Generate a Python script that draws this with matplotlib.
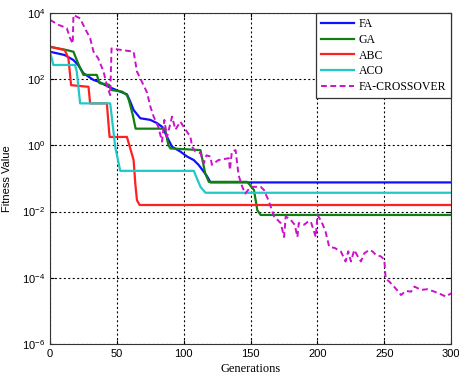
import matplotlib.pyplot as plt
from matplotlib.ticker import NullLocator, LogFormatterSciNotation

# Convergence curves of the five optimisers (best fitness per generation)
fa_gen = [0, 11, 17.5, 21, 25, 32.5, 36, 43.75, 52.5, 57.5, 60, 62.5, 67.5, 75, 80,
          84, 87.5, 91.25, 97.5, 102.5, 107.5, 111, 115, 117.5, 120, 300]
fa_fit = [676, 537, 380, 269, 151, 95, 85, 59, 42, 35, 21, 11.7, 6.6, 5.9, 4.7,
          3.6, 1.8, 0.91, 0.65, 0.46, 0.36, 0.26, 0.16, 0.115, 0.076, 0.076]

ga_gen = [0, 12.5, 17.5, 21, 25, 35, 37, 44, 46, 54, 57.5, 59, 62, 64, 86, 88.5,
          90, 112.5, 116, 118.75, 147.5, 152.5, 155, 157.5, 300]
ga_fit = [955, 759, 676, 302, 135, 135, 76, 68, 47, 42, 33, 23, 7.9, 3.2, 3.2, 1.02,
          0.81, 0.72, 0.145, 0.079, 0.079, 0.045, 0.011, 0.0079, 0.0079]

abc_gen = [0, 11, 13.75, 15.75, 28.75, 30, 42.5, 44.5, 57.5, 62.5, 63.75, 65, 67, 300]
abc_fit = [955, 759, 427, 66, 59, 18.6, 18.6, 1.8, 1.8, 0.36, 0.071, 0.022, 0.0158, 0.0158]

aco_gen = [0, 2.5, 18.75, 20, 22.5, 45, 48.75, 52.5, 107.5, 112.5, 116.25, 300]
aco_fit = [676, 269, 269, 170, 18.6, 18.6, 0.91, 0.17, 0.17, 0.056, 0.037, 0.037]

fac_gen = [0, 6.25, 12.5, 15, 17, 17.5, 22.5, 26, 30, 32.5, 36, 40, 42.5, 45, 46,
           53.75, 62.5, 65, 69, 72.5, 75, 77.5, 81, 83.75, 85.5, 87.5, 91.25, 93.75,
           97.5, 100, 105, 106.25, 108.75, 112.5, 115, 117, 120, 121, 126, 133.75,
           134.5, 136, 138.75, 141, 143.75, 146, 150, 157.5, 160, 163.75, 167.5,
           172.5, 175, 176.25, 180, 183, 185, 186, 190, 193, 195, 198.75, 200, 203,
           206, 208.75, 213, 217.5, 221, 223, 225, 227.5, 230, 232.5, 235, 238.75,
           241, 243.75, 247.5, 250, 251, 253.75, 258, 262.5, 266, 270, 272.5, 277.5,
           282, 287.5, 292, 296, 300]
fac_fit = [6200, 4400, 3500, 1740, 1200, 8700, 6900, 3500, 1740, 680, 430, 170, 66,
           33, 850, 760, 680, 170, 79, 40, 15, 7.4, 3.6, 1.3, 5.9, 1.8, 7.4, 3.0,
           5.2, 3.6, 1.8, 0.91, 0.65, 0.58, 0.29, 0.5, 0.46, 0.26, 0.36, 0.41,
           0.18, 0.65, 0.72, 0.126, 0.056, 0.035, 0.056, 0.056, 0.045, 0.020, 0.0071,
           0.0045, 0.0017, 0.0071, 0.0056, 0.0040, 0.0017, 0.0045, 0.0040, 0.0050,
           0.0050, 0.0017, 0.0079, 0.0050, 0.0025, 8.7e-4, 7.9e-4, 6.2e-4, 3.1e-4,
           6.3e-4, 3.1e-4, 6.9e-4, 4.5e-4, 3.1e-4, 5.5e-4, 6.9e-4, 6.3e-4, 4.9e-4,
           4.4e-4, 3.5e-4, 9.5e-5, 7.6e-5, 5.0e-5, 3.0e-5, 4.0e-5, 3.8e-5, 5.4e-5,
           4.3e-5, 4.5e-5, 3.8e-5, 3.2e-5, 2.7e-5, 3.4e-5]

x_ticks = [0, 50, 100, 150, 200, 250, 300]
y_ticks = [1e-6, 1e-4, 1e-2, 1e0, 1e2, 1e4]

plt.rcParams['font.family'] = ['Liberation Sans', 'DejaVu Sans']
plt.rcParams['mathtext.fontset'] = 'custom'
plt.rcParams['mathtext.rm'] = 'Liberation Sans'
plt.rcParams['mathtext.it'] = 'Liberation Sans'

fig = plt.figure(figsize=(4.59, 3.83), dpi=100)
ax = fig.add_axes([0.109, 0.102, 0.874, 0.864])

ax.plot(fa_gen, fa_fit, color='#1010ff', lw=1.6, label='FA')
ax.plot(ga_gen, ga_fit, color='#108010', lw=1.6, label='GA')
ax.plot(abc_gen, abc_fit, color='#ff2020', lw=1.6, label='ABC')
ax.plot(aco_gen, aco_fit, color='#20c8c8', lw=1.6, label='ACO')
ax.plot(fac_gen, fac_fit, color='#cc10cc', lw=1.4, linestyle=(0, (3, 1.8)),
        label='FA-CROSSOVER')

ax.set_yscale('log')
ax.set_xlim(0, 300)
ax.set_ylim(1e-6, 1e4)
ax.set_xticks(x_ticks)
ax.set_yticks(y_ticks)
ax.yaxis.set_minor_locator(NullLocator())
ax.yaxis.set_major_formatter(LogFormatterSciNotation())
ax.tick_params(direction='in', top=True, right=True, labelsize=8, length=3)
ax.grid(True, color='black', linestyle=(0, (1.8, 2.2)), lw=0.8)
for s in ax.spines.values():
    s.set_color('#333333')

ax.set_xlabel('Generations', family='Liberation Serif', fontsize=9, labelpad=3)
ax.set_ylabel('Fitness Value', fontsize=8, labelpad=7)

leg = ax.legend(loc='upper right', borderaxespad=0, fancybox=False,
                edgecolor='#333333', framealpha=1, handlelength=2.8,
                labelspacing=0.33, handletextpad=0.4,
                prop={'family': 'Liberation Serif', 'size': 8.5})
leg.get_frame().set_linewidth(0.9)

plt.savefig('out.png', dpi=100)
